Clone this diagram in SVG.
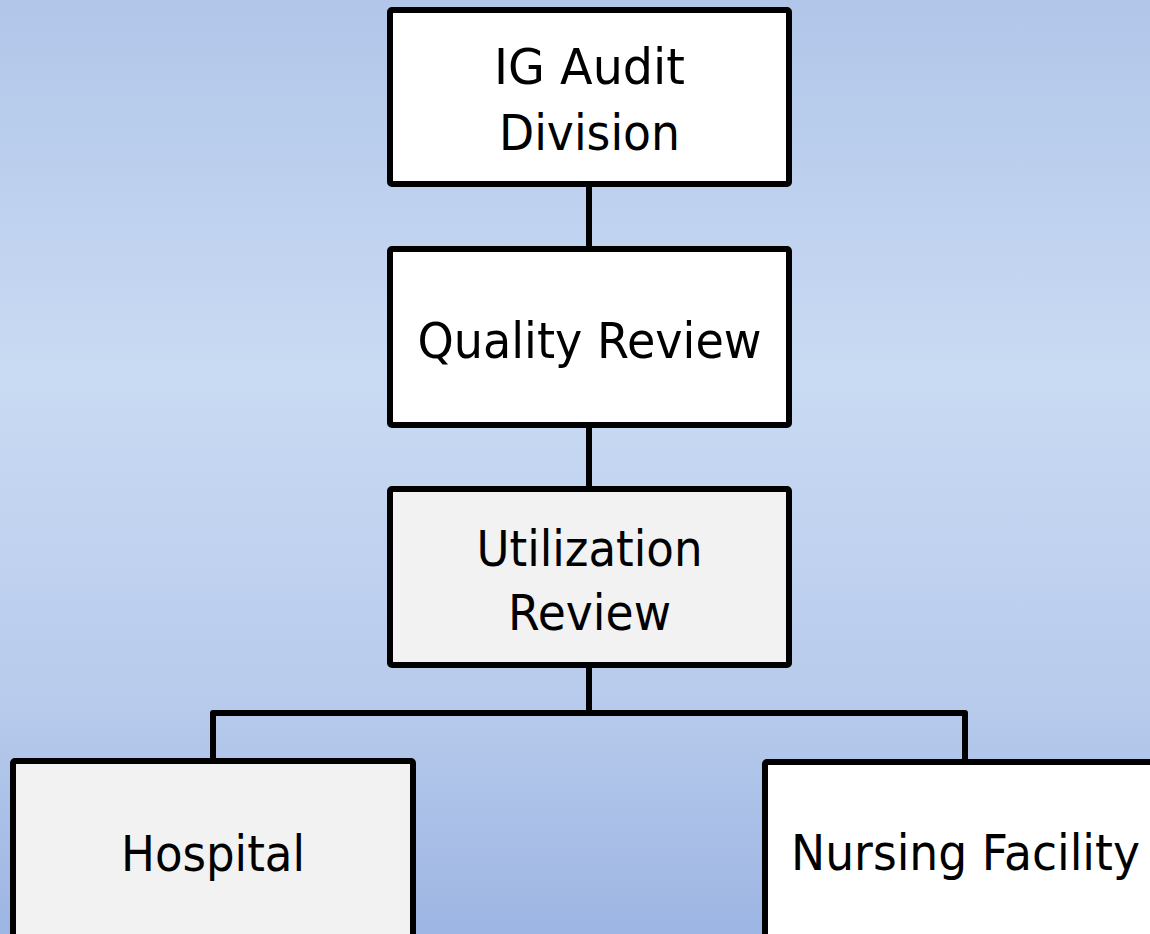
<svg xmlns="http://www.w3.org/2000/svg" width="1150" height="934" viewBox="0 0 1150 934">
  <defs>
    <linearGradient id="bg" x1="0" y1="0" x2="0" y2="1">
      <stop offset="0" stop-color="#b1c6e9"/>
      <stop offset="0.4" stop-color="#c9daf3"/>
      <stop offset="0.75" stop-color="#b8cbec"/>
      <stop offset="1" stop-color="#9db5e3"/>
    </linearGradient>
  </defs>
  <style>
    .box { stroke: #000; stroke-width: 6; stroke-linejoin: round; }
    .white { fill: #ffffff; }
    .grey { fill: #f2f2f2; }
    .conn { fill: none; stroke: #000; stroke-width: 6; stroke-linejoin: round; }
    .lbl { font-family: "DejaVu Sans", Verdana, sans-serif; font-size: 50px; fill: #000; text-anchor: middle; }
  </style>
  <rect x="0" y="0" width="1150" height="934" fill="url(#bg)"/>
  <g id="connectors">
    <line class="conn" x1="589" y1="184" x2="589" y2="249"/>
    <line class="conn" x1="589" y1="425" x2="589" y2="489"/>
    <path class="conn" d="M589 665 V713 M213 761 V713 H965 V762"/>
  </g>
  <g id="ig-audit">
    <rect class="box white" x="390" y="10" width="399" height="174" rx="2"/>
    <text class="lbl" x="589.5" y="84" textLength="191" lengthAdjust="spacingAndGlyphs">IG Audit</text>
    <text class="lbl" x="589.5" y="150" textLength="181" lengthAdjust="spacingAndGlyphs">Division</text>
  </g>
  <g id="quality-review">
    <rect class="box white" x="390" y="249" width="399" height="176" rx="2"/>
    <text class="lbl" x="589.5" y="358" textLength="344" lengthAdjust="spacingAndGlyphs">Quality Review</text>
  </g>
  <g id="utilization-review">
    <rect class="box grey" x="390" y="489" width="399" height="176" rx="2"/>
    <text class="lbl" x="589.5" y="566" textLength="226" lengthAdjust="spacingAndGlyphs">Utilization</text>
    <text class="lbl" x="589.5" y="630" textLength="163" lengthAdjust="spacingAndGlyphs">Review</text>
  </g>
  <g id="hospital">
    <rect class="box grey" x="13" y="761" width="400" height="220" rx="2"/>
    <text class="lbl" x="213" y="871" textLength="184" lengthAdjust="spacingAndGlyphs">Hospital</text>
  </g>
  <g id="nursing-facility">
    <rect class="box white" x="765" y="762" width="400" height="220" rx="2"/>
    <text class="lbl" x="965.5" y="870" textLength="349" lengthAdjust="spacingAndGlyphs">Nursing Facility</text>
  </g>
</svg>
